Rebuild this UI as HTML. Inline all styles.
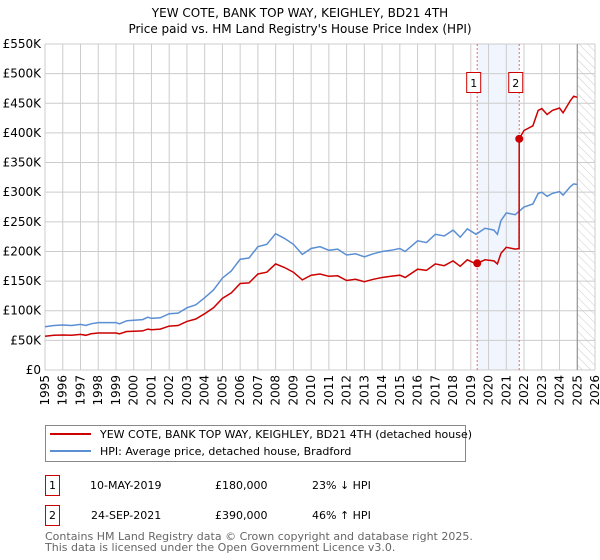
<!DOCTYPE html>
<html><head><meta charset="utf-8"><style>
body{margin:0;background:#fff;}
svg{display:block;font-family:"DejaVu Sans","Liberation Sans",sans-serif;}
</style></head><body>
<svg id="c" width="600" height="560" viewBox="0 0 600 560">
<text x="300" y="17" text-anchor="middle" font-size="12">YEW COTE, BANK TOP WAY, KEIGHLEY, BD21 4TH</text>
<text x="300" y="33" text-anchor="middle" font-size="12">Price paid vs. HM Land Registry's House Price Index (HPI)</text>
<g id="plot"></g>
<g>
<rect x="45.5" y="425.5" width="420" height="36" fill="#fff" stroke="#888"/>
<line x1="50" y1="434" x2="91" y2="434" stroke="#cc0000" stroke-width="2"/>
<text x="100" y="438" font-size="11">YEW COTE, BANK TOP WAY, KEIGHLEY, BD21 4TH (detached house)</text>
<line x1="50" y1="451" x2="91" y2="451" stroke="#5b8fd4" stroke-width="2"/>
<text x="100" y="455" font-size="11">HPI: Average price, detached house, Bradford</text>
</g>
<g font-size="11">
<rect x="45.5" y="475.5" width="14" height="20" fill="#fff" stroke="#cc0000"/>
<text x="52.5" y="489" text-anchor="middle">1</text>
<text x="90" y="489">10-MAY-2019</text><text x="215" y="489">£180,000</text><text x="312" y="489">23% ↓ HPI</text>
<rect x="45.5" y="505.5" width="14" height="20" fill="#fff" stroke="#cc0000"/>
<text x="52.5" y="519" text-anchor="middle">2</text>
<text x="91" y="519">24-SEP-2021</text><text x="215" y="519">£390,000</text><text x="312" y="519">46% ↑ HPI</text>
</g>
<g font-size="11" fill="#666">
<text x="45" y="540">Contains HM Land Registry data © Crown copyright and database right 2025.</text>
<text x="45" y="551">This data is licensed under the Open Government Licence v3.0.</text>
</g>
</svg>
<script>
const hpiT=[1995.0,1995.5,1996.0,1996.5,1997.0,1997.3,1997.6,1998.0,1998.5,1999.0,1999.2,1999.6,2000.0,2000.5,2000.8,2001.0,2001.5,2002.0,2002.5,2003.0,2003.5,2004.0,2004.5,2005.0,2005.5,2006.0,2006.5,2007.0,2007.5,2008.0,2008.5,2009.0,2009.5,2010.0,2010.5,2011.0,2011.5,2012.0,2012.5,2013.0,2013.5,2014.0,2014.5,2015.0,2015.3,2016.0,2016.5,2017.0,2017.5,2018.0,2018.4,2018.8,2019.3,2019.8,2020.3,2020.5,2020.7,2021.0,2021.5,2022.0,2022.5,2022.8,2023.0,2023.3,2023.6,2024.0,2024.2,2024.6,2024.8,2025.0];
const hpiV=[73,75,76,75,77,75,78,80,80,80,78,83,84,85,89,87,88,95,96,105,110,122,135,155,167,187,189,208,212,230,222,212,195,205,208,202,204,194,196,191,196,200,202,205,200,218,215,229,226,236,224,238,229,239,236,229,252,265,262,275,280,298,300,293,298,301,295,309,314,313];
const redT=[1995.0,1995.5,1996.0,1996.5,1997.0,1997.3,1997.6,1998.0,1998.5,1999.0,1999.2,1999.6,2000.0,2000.5,2000.8,2001.0,2001.5,2002.0,2002.5,2003.0,2003.5,2004.0,2004.5,2005.0,2005.5,2006.0,2006.5,2007.0,2007.5,2008.0,2008.5,2009.0,2009.5,2010.0,2010.5,2011.0,2011.5,2012.0,2012.5,2013.0,2013.5,2014.0,2014.5,2015.0,2015.3,2016.0,2016.5,2017.0,2017.5,2018.0,2018.4,2018.8,2019.3,2019.36,2019.8,2020.3,2020.5,2020.7,2021.0,2021.5,2021.72,2021.73,2022.0,2022.5,2022.8,2023.0,2023.3,2023.6,2024.0,2024.2,2024.6,2024.8,2025.0];
const redV=[57,58.5,59,58.5,60,58.5,61,62.4,62.4,62.4,61,65,65.5,66,69,68,69,74,75,82,86,95,105,121,130,146,147,162,165,179,173,165,152,160,162,158,159,151,153,149,153,156,158,160,156,170,168,179,176,184,175,186,179,180,186,184,179,197,207,204,205,390,404,412,438,441,431,438,442,434,454,462,460];
const saleT=[2019.36,2021.73];
const saleV=[180,390];
const saleLabels=["1","2"];
const yTicks=[0,50,100,150,200,250,300,350,400,450,500,550];
const yTickLabels=["£0","£50K","£100K","£150K","£200K","£250K","£300K","£350K","£400K","£450K","£500K","£550K"];
const xTicks=[1995,1996,1997,1998,1999,2000,2001,2002,2003,2004,2005,2006,2007,2008,2009,2010,2011,2012,2013,2014,2015,2016,2017,2018,2019,2020,2021,2022,2023,2024,2025,2026];

const X0=45,X1=595,Y0=370,Y1=44,T0=1995,T1=2026,V1=550,DATA_END=2025;
const sx=t=>X0+(t-T0)/(T1-T0)*(X1-X0);
const sy=v=>Y0-v/V1*(Y0-Y1);
const NS="http://www.w3.org/2000/svg";
const plot=document.getElementById('plot');
function mk(tag,attrs,parent){const e=document.createElementNS(NS,tag);for(const k in attrs)e.setAttribute(k,attrs[k]);(parent||plot).appendChild(e);return e;}

const defs=mk('defs',{});
const pat=mk('pattern',{id:'hatch',width:6,height:6,patternUnits:'userSpaceOnUse',patternTransform:'rotate(-45)'},defs);
mk('line',{x1:0,y1:0,x2:0,y2:6,stroke:'#ccc','stroke-width':1},pat);
const shade=mk('rect',{x:sx(saleT[0]),y:Y1,width:sx(saleT[1])-sx(saleT[0]),height:Y0-Y1,fill:'#eef3fc',opacity:0.8});


const hat=mk('rect',{x:sx(DATA_END),y:Y1,width:X1-sx(DATA_END),height:Y0-Y1,fill:'url(#hatch)'});



yTicks.forEach((v,i)=>{
  const g=mk('line',{x1:X0,x2:X1,y1:sy(v),y2:sy(v),stroke:'#ccc','stroke-width':1});
  
  
  const t=mk('text',{x:X0-4,y:sy(v)+4,'text-anchor':'end','font-size':12});
  t.textContent=yTickLabels[i];
  
  
});
xTicks.forEach(yr=>{
  const g=mk('line',{x1:sx(yr),x2:sx(yr),y1:Y1,y2:Y0,stroke:'#ccc','stroke-width':1});
  
  
  const t=mk('text',{x:0,y:0,'text-anchor':'end','font-size':12,transform:`translate(${sx(yr)+4},${Y0+5}) rotate(-90)`});
  t.textContent=yr;
  
  
});
const dl=mk('line',{x1:sx(DATA_END),x2:sx(DATA_END),y1:Y1,y2:Y0,stroke:'#888','stroke-width':1});



saleT.forEach((t,i)=>{
  const l=mk('line',{x1:sx(t),x2:sx(t),y1:Y1,y2:Y0,stroke:'#e66','stroke-width':1,'stroke-dasharray':'2,2'});
  
  
});

function path(T,V){return T.map((t,i)=>(i?'L':'M')+sx(t).toFixed(1)+','+sy(V[i]).toFixed(1)).join('');}
const hp=mk('path',{d:path(hpiT,hpiV),fill:'none',stroke:'#5b8fd4','stroke-width':1.5});


const rp=mk('path',{d:path(redT,redV),fill:'none',stroke:'#cc0000','stroke-width':1.5});



saleT.forEach((t,i)=>{
  const c=mk('circle',{cx:sx(t),cy:sy(saleV[i]),r:4,fill:'#cc0000'});
  
  
  const b=mk('rect',{x:sx(t)-10.5,y:72.5,width:14,height:20,fill:'#fff',stroke:'#cc0000'});
  
  
  const tx=mk('text',{x:sx(t)-3.5,y:87,'text-anchor':'middle','font-size':11});
  tx.textContent=saleLabels[i];
  
  
});
</script>
</body></html>
